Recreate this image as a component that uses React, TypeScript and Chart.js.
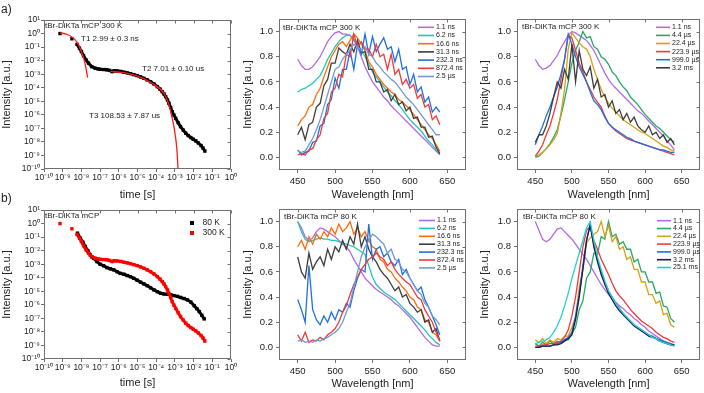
import React, { useEffect, useRef } from "react";
import { Chart, registerables } from "chart.js";
Chart.register(...registerables);

const FONT = '"Liberation Sans", Arial, Helvetica, sans-serif';
const TXT = "#222222";
const FRAME = "#707070";

// ---------- tick values / labels ----------
const logXTicks = [1e-10, 1e-9, 1e-8, 1e-7, 1e-6, 1e-5, 1e-4, 1e-3, 1e-2, 1e-1, 1];
const logXLabels = ["10⁻¹⁰", "10⁻⁹", "10⁻⁸", "10⁻⁷", "10⁻⁶", "10⁻⁵", "10⁻⁴", "10⁻³", "10⁻²", "10⁻¹", "10⁰"];
const logYTicks = [1e-10, 1e-9, 1e-8, 1e-7, 1e-6, 1e-5, 1e-4, 1e-3, 1e-2, 1e-1, 1, 10];
const logYLabels = ["10⁻¹⁰", "10⁻⁹", "10⁻⁸", "10⁻⁷", "10⁻⁶", "10⁻⁵", "10⁻⁴", "10⁻³", "10⁻²", "10⁻¹", "10⁰", "10¹"];
const wlTicks = [450, 500, 550, 600, 650];
const wlTickLabels = ["450", "500", "550", "600", "650"];
const intTicks = [0, 0.2, 0.4, 0.6, 0.8, 1.0];
const intTickLabels = ["0.0", "0.2", "0.4", "0.6", "0.8", "1.0"];

// ---------- decay data (time in s, normalised intensity) ----------
const decayTime300 = [7.2e-10, 3.1e-9, 5.8e-9, 7.9e-9, 1.0e-8, 1.3e-8, 1.8e-8, 2.4e-8, 3.6e-8, 5.5e-8,
  7.9e-8, 1.0e-7, 1.6e-7, 2.3e-7, 3.2e-7, 4.4e-7, 5.6e-7, 8.1e-7, 1.26e-6, 1.9e-6,
  2.8e-6, 4.2e-6, 6.3e-6, 9.5e-6, 1.45e-5, 2.2e-5, 3.3e-5, 5.0e-5, 7.6e-5, 1.15e-4,
  1.6e-4, 2.1e-4, 2.6e-4, 3.2e-4, 4.0e-4, 4.8e-4, 5.9e-4, 7.2e-4, 8.9e-4, 1.1e-3,
  1.5e-3, 2.0e-3, 2.8e-3, 3.8e-3, 5.2e-3, 7.1e-3, 9.5e-3, 1.3e-2, 1.8e-2, 2.5e-2,
  3.2e-2, 4.0e-2];
const decayInt300 = [1.0, 0.41, 0.16, 0.083, 0.047, 0.023, 0.011, 6.5e-3, 3.6e-3, 2.75e-3,
  2.45e-3, 2.3e-3, 2.2e-3, 2.1e-3, 1.9e-3, 1.55e-3, 1.8e-3, 1.75e-3, 1.6e-3, 1.4e-3,
  1.25e-3, 1.1e-3, 9.3e-4, 7.9e-4, 6.3e-4, 5.0e-4, 3.8e-4, 2.8e-4, 1.9e-4, 1.2e-4,
  7.9e-5, 5.1e-5, 3.5e-5, 2.2e-5, 1.26e-5, 7.1e-6, 3.5e-6, 1.7e-6, 9.5e-7, 5.5e-7,
  2.6e-7, 1.35e-7, 7.4e-8, 4.4e-8, 2.9e-8, 2.1e-8, 1.6e-8, 1.2e-8, 8.3e-9, 5.4e-9,
  3.5e-9, 2.1e-9];
const decayTime80 = [6.2e-9, 8.7e-9, 1.2e-8, 1.6e-8, 2.2e-8, 3.0e-8, 3.6e-8, 4.5e-8, 6.8e-8, 1.0e-7,
  1.55e-7, 2.3e-7, 3.5e-7, 5.4e-7, 8.1e-7, 1.2e-6, 1.9e-6, 2.8e-6, 4.2e-6, 6.3e-6,
  9.5e-6, 1.45e-5, 2.2e-5, 3.3e-5, 5.0e-5, 7.6e-5, 1.15e-4, 1.7e-4, 2.6e-4, 4.0e-4,
  6.0e-4, 8.9e-4, 1.35e-3, 2.0e-3, 3.1e-3, 4.7e-3, 7.1e-3, 1.07e-2, 1.5e-2, 2.0e-2,
  2.75e-2, 3.7e-2];
const decayInt80 = [0.195, 0.083, 0.042, 0.02, 0.01, 4.8e-3, 3.5e-3, 2.75e-3, 1.55e-3, 1.0e-3,
  7.6e-4, 5.6e-4, 4.6e-4, 3.8e-4, 2.8e-4, 2.1e-4, 1.8e-4, 1.45e-4, 1.2e-4, 9.1e-5,
  6.6e-5, 4.7e-5, 3.5e-5, 2.6e-5, 1.8e-5, 1.26e-5, 9.3e-6, 7.2e-6, 6.3e-6, 6.0e-6,
  5.5e-6, 4.8e-6, 4.2e-6, 3.5e-6, 2.9e-6, 2.3e-6, 1.6e-6, 8.7e-7, 5.2e-7, 3.2e-7,
  1.7e-7, 9.1e-8];
// fitted components (300 K)
const fitT1Time = [7.2e-10, 1.66e-9, 3.8e-9, 7.1e-9, 1.07e-8, 1.48e-8, 1.82e-8, 2.14e-8];
const fitT1Int = [1.12, 0.89, 0.46, 0.145, 0.035, 8.5e-3, 2.1e-3, 5.6e-4];
const fitT2Time = [3.5e-7, 1.9e-6, 9.5e-6, 5.0e-5, 1.7e-4, 2.6e-4];
const fitT2Int = [1.6e-3, 1.3e-3, 7.4e-4, 2.5e-4, 7.9e-5, 4.0e-5];
const fitT3Time = [7.6e-5, 2.6e-4, 4.8e-4, 7.2e-4, 9.8e-4, 1.26e-3, 1.48e-3];
const fitT3Int = [1.6e-4, 3.9e-5, 5.4e-6, 5.5e-7, 5.8e-8, 3.4e-9, 1.0e-10];

// ---------- spectra (wavelength in nm) ----------
const wavelengths = [450, 455, 460, 465, 470, 475, 480, 485, 490, 495, 500, 505, 510, 515, 520, 525, 530, 535, 540, 545,
  550, 555, 560, 565, 570, 575, 580, 585, 590, 595, 600, 605, 610, 615, 620, 625, 630, 635, 640];

// 300 K, early delays
const s300_1_1ns = [0.78, 0.73, 0.70, 0.70, 0.72, 0.76, 0.80, 0.86, 0.92, 0.96, 0.99, 1.00, 0.98, 0.98, 0.97, 0.93, 0.88, 0.80, 0.72, 0.66,
  0.60, 0.56, 0.52, 0.48, 0.45, 0.41, 0.38, 0.35, 0.32, 0.29, 0.26, 0.23, 0.20, 0.17, 0.14, 0.11, 0.08, 0.05, 0.02];
const s300_6_2ns = [0.52, 0.54, 0.55, 0.57, 0.59, 0.62, 0.65, 0.71, 0.78, 0.83, 0.88, 0.92, 0.95, 0.97, 0.97, 0.94, 0.90, 0.85, 0.80, 0.74,
  0.68, 0.64, 0.60, 0.56, 0.52, 0.49, 0.45, 0.42, 0.38, 0.34, 0.30, 0.27, 0.24, 0.21, 0.17, 0.13, 0.10, 0.06, 0.03];
const s300_16_6ns = [0.25, 0.30, 0.33, 0.40, 0.42, 0.50, 0.55, 0.64, 0.72, 0.80, 0.85, 0.90, 0.92, 0.88, 0.93, 0.98, 0.95, 0.90, 0.85, 0.76,
  0.72, 0.66, 0.62, 0.58, 0.55, 0.52, 0.50, 0.46, 0.44, 0.41, 0.38, 0.34, 0.30, 0.26, 0.22, 0.18, 0.15, 0.10, 0.05];
const s300_31_3ns = [0.18, 0.24, 0.14, 0.26, 0.28, 0.40, 0.43, 0.57, 0.62, 0.75, 0.75, 0.87, 0.84, 0.82, 0.90, 0.84, 0.93, 0.83, 0.84, 0.70,
  0.70, 0.60, 0.60, 0.52, 0.54, 0.45, 0.50, 0.42, 0.44, 0.37, 0.40, 0.31, 0.32, 0.24, 0.24, 0.16, 0.17, 0.08, 0.03];
const s300_232_3ns = [0.06, 0.02, 0.04, 0.05, 0.12, 0.13, 0.25, 0.27, 0.42, 0.46, 0.63, 0.55, 0.70, 0.70, 0.85, 0.70, 0.90, 0.82, 0.98, 0.82,
  0.96, 0.84, 0.90, 0.95, 0.86, 0.88, 0.76, 0.86, 0.70, 0.72, 0.58, 0.66, 0.52, 0.56, 0.44, 0.48, 0.36, 0.40, 0.36];
const s300_872_4ns = [0.02, 0.03, 0.02, 0.06, 0.07, 0.14, 0.18, 0.31, 0.35, 0.52, 0.55, 0.66, 0.64, 0.82, 0.80, 0.98, 0.88, 0.92, 0.86, 0.86,
  0.80, 0.90, 0.80, 0.82, 0.70, 0.82, 0.66, 0.70, 0.58, 0.62, 0.55, 0.58, 0.47, 0.50, 0.40, 0.42, 0.30, 0.33, 0.26];
const s300_2_5us = [0.05, 0.04, 0.05, 0.10, 0.15, 0.22, 0.30, 0.40, 0.50, 0.60, 0.70, 0.72, 0.78, 0.82, 0.85, 0.90, 0.88, 0.85, 0.88, 0.82,
  0.80, 0.75, 0.72, 0.68, 0.65, 0.62, 0.60, 0.56, 0.52, 0.48, 0.45, 0.42, 0.38, 0.34, 0.30, 0.26, 0.22, 0.18, 0.18];

// 300 K, late delays
const s300b_1_1ns = [0.78, 0.73, 0.70, 0.71, 0.73, 0.77, 0.81, 0.87, 0.92, 0.97, 1.00, 0.99, 0.97, 0.95, 0.93, 0.89, 0.85, 0.79, 0.73, 0.67,
  0.62, 0.58, 0.55, 0.52, 0.49, 0.46, 0.43, 0.40, 0.37, 0.35, 0.32, 0.29, 0.26, 0.23, 0.20, 0.17, 0.13, 0.10, 0.06];
const s300b_4_4us = [0.00, 0.01, 0.04, 0.07, 0.11, 0.16, 0.22, 0.33, 0.46, 0.60, 0.75, 0.85, 0.92, 1.00, 0.95, 0.96, 0.88, 0.86, 0.80, 0.78,
  0.74, 0.68, 0.65, 0.60, 0.56, 0.53, 0.48, 0.45, 0.42, 0.38, 0.34, 0.31, 0.28, 0.25, 0.23, 0.20, 0.17, 0.14, 0.12];
const s300b_22_4us = [0.01, 0.02, 0.04, 0.07, 0.10, 0.14, 0.19, 0.35, 0.54, 0.86, 0.99, 0.95, 0.91, 0.88, 0.86, 0.80, 0.70, 0.62, 0.54, 0.48,
  0.43, 0.39, 0.36, 0.33, 0.30, 0.28, 0.26, 0.24, 0.22, 0.20, 0.19, 0.17, 0.15, 0.13, 0.11, 0.09, 0.08, 0.06, 0.05];
const s300b_223_9us = [0.01, 0.05, 0.10, 0.18, 0.25, 0.35, 0.46, 0.62, 0.78, 0.97, 0.95, 0.85, 0.75, 0.68, 0.60, 0.54, 0.48, 0.44, 0.40, 0.33,
  0.27, 0.24, 0.21, 0.19, 0.17, 0.15, 0.14, 0.13, 0.12, 0.11, 0.10, 0.09, 0.08, 0.07, 0.06, 0.05, 0.04, 0.03, 0.02];
const s300b_999_0us = [0.10, 0.18, 0.25, 0.33, 0.40, 0.48, 0.56, 0.66, 0.78, 0.98, 0.90, 0.80, 0.72, 0.66, 0.60, 0.52, 0.45, 0.42, 0.38, 0.32,
  0.27, 0.24, 0.22, 0.20, 0.18, 0.16, 0.15, 0.13, 0.12, 0.11, 0.10, 0.09, 0.08, 0.07, 0.06, 0.06, 0.05, 0.04, 0.04];
const s300b_3_2ms = [0.12, 0.18, 0.18, 0.25, 0.35, 0.48, 0.60, 0.55, 0.70, 0.62, 0.90, 0.60, 0.85, 0.70, 0.65, 0.72, 0.55, 0.62, 0.48, 0.50,
  0.40, 0.45, 0.35, 0.38, 0.30, 0.35, 0.28, 0.32, 0.25, 0.22, 0.20, 0.25, 0.18, 0.20, 0.15, 0.18, 0.12, 0.15, 0.10];

// 80 K, early delays
const s80_1_1ns = [1.00, 0.95, 0.88, 0.85, 0.87, 0.92, 0.95, 0.94, 0.92, 0.90, 0.88, 0.85, 0.82, 0.80, 0.76, 0.70, 0.65, 0.60, 0.55, 0.52,
  0.49, 0.46, 0.44, 0.42, 0.40, 0.38, 0.35, 0.33, 0.30, 0.27, 0.24, 0.20, 0.16, 0.12, 0.08, 0.05, 0.02, 0.01, 0.01];
const s80_6_2ns = [1.00, 0.92, 0.86, 0.84, 0.85, 0.86, 0.87, 0.86, 0.86, 0.85, 0.85, 0.84, 0.83, 0.82, 0.81, 0.80, 0.78, 0.76, 0.74, 0.65,
  0.56, 0.50, 0.47, 0.44, 0.42, 0.40, 0.38, 0.35, 0.32, 0.29, 0.26, 0.23, 0.20, 0.17, 0.14, 0.10, 0.07, 0.04, 0.02];
const s80_16_6ns = [0.80, 0.85, 0.78, 0.88, 0.82, 0.90, 0.86, 0.92, 0.88, 0.95, 0.90, 0.98, 0.92, 0.95, 1.00, 0.90, 0.95, 0.88, 0.92, 0.85,
  0.80, 0.78, 0.70, 0.68, 0.62, 0.60, 0.55, 0.52, 0.48, 0.45, 0.40, 0.38, 0.32, 0.30, 0.22, 0.20, 0.12, 0.10, 0.05];
const s80_31_3ns = [0.72, 0.60, 0.55, 0.75, 0.62, 0.68, 0.72, 0.65, 0.78, 0.70, 0.80, 0.76, 0.85, 0.78, 0.88, 0.82, 0.98, 0.80, 0.88, 0.78,
  0.72, 0.68, 0.62, 0.58, 0.55, 0.50, 0.45, 0.48, 0.40, 0.42, 0.35, 0.32, 0.28, 0.30, 0.20, 0.22, 0.12, 0.15, 0.05];
const s80_232_3ns = [0.38, 0.30, 0.20, 0.65, 0.30, 0.22, 0.18, 0.25, 0.20, 0.28, 0.22, 0.30, 0.28, 0.35, 0.32, 0.45, 0.55, 0.62, 0.60, 0.98,
  0.70, 0.78, 0.80, 0.72, 0.75, 0.68, 0.65, 0.70, 0.58, 0.62, 0.55, 0.50, 0.45, 0.48, 0.38, 0.32, 0.25, 0.18, 0.10];
const s80_872_4ns = [0.10, 0.05, 0.12, 0.04, 0.06, 0.05, 0.08, 0.06, 0.10, 0.12, 0.15, 0.20, 0.28, 0.33, 0.42, 0.50, 0.56, 0.62, 0.66, 0.70,
  0.72, 0.75, 0.72, 0.70, 0.65, 0.68, 0.62, 0.58, 0.55, 0.52, 0.50, 0.45, 0.40, 0.38, 0.30, 0.25, 0.20, 0.12, 0.05];
const s80_2_5us = [0.05, 0.06, 0.04, 0.05, 0.04, 0.06, 0.05, 0.07, 0.08, 0.10, 0.12, 0.15, 0.20, 0.28, 0.35, 0.48, 0.60, 0.72, 0.80, 0.85,
  0.90, 0.88, 0.85, 0.82, 0.75, 0.78, 0.70, 0.68, 0.62, 0.60, 0.55, 0.50, 0.45, 0.42, 0.35, 0.32, 0.25, 0.22, 0.18];

// 80 K, late delays
const s80b_1_1ns = [1.00, 0.93, 0.86, 0.84, 0.86, 0.90, 0.94, 0.95, 0.92, 0.89, 0.86, 0.82, 0.78, 0.74, 0.70, 0.65, 0.60, 0.55, 0.50, 0.46,
  0.42, 0.39, 0.36, 0.33, 0.31, 0.28, 0.26, 0.23, 0.21, 0.18, 0.16, 0.13, 0.11, 0.09, 0.07, 0.05, 0.03, 0.02, 0.01];
const s80b_4_4us = [0.03, 0.01, 0.04, 0.02, 0.05, 0.03, 0.05, 0.04, 0.06, 0.06, 0.11, 0.16, 0.30, 0.37, 0.55, 0.60, 0.75, 0.74, 0.88, 0.86,
  1.00, 0.88, 0.90, 0.82, 0.84, 0.78, 0.78, 0.68, 0.70, 0.60, 0.60, 0.52, 0.52, 0.43, 0.44, 0.33, 0.32, 0.23, 0.20];
const s80b_22_4us = [0.06, 0.04, 0.07, 0.03, 0.06, 0.04, 0.07, 0.06, 0.09, 0.09, 0.16, 0.24, 0.48, 0.62, 0.83, 0.87, 0.90, 0.92, 1.00, 0.88,
  0.97, 0.84, 0.88, 0.78, 0.80, 0.70, 0.72, 0.62, 0.62, 0.52, 0.52, 0.42, 0.42, 0.35, 0.37, 0.26, 0.27, 0.18, 0.16];
const s80b_223_9us = [0.01, 0.01, 0.02, 0.02, 0.03, 0.03, 0.04, 0.05, 0.08, 0.14, 0.25, 0.40, 0.60, 0.80, 0.93, 0.96, 0.85, 0.78, 0.70, 0.64,
  0.58, 0.51, 0.45, 0.41, 0.38, 0.34, 0.30, 0.27, 0.24, 0.21, 0.19, 0.17, 0.15, 0.12, 0.10, 0.08, 0.07, 0.05, 0.04];
const s80b_999_0us = [0.00, 0.00, 0.01, 0.01, 0.01, 0.02, 0.03, 0.04, 0.06, 0.08, 0.12, 0.25, 0.42, 0.65, 0.85, 0.98, 0.82, 0.70, 0.60, 0.52,
  0.45, 0.40, 0.35, 0.31, 0.27, 0.24, 0.21, 0.18, 0.16, 0.14, 0.12, 0.10, 0.09, 0.07, 0.06, 0.05, 0.04, 0.03, 0.02];
const s80b_3_2ms = [0.00, 0.00, 0.01, 0.01, 0.01, 0.02, 0.02, 0.03, 0.05, 0.07, 0.10, 0.22, 0.40, 0.62, 0.85, 0.97, 0.80, 0.68, 0.58, 0.50,
  0.43, 0.38, 0.33, 0.29, 0.26, 0.23, 0.20, 0.17, 0.15, 0.13, 0.11, 0.09, 0.08, 0.07, 0.05, 0.04, 0.03, 0.02, 0.02];
const s80b_25_1ms = [0.03, 0.04, 0.05, 0.06, 0.08, 0.12, 0.17, 0.24, 0.33, 0.43, 0.55, 0.65, 0.75, 0.85, 0.95, 1.00, 0.85, 0.72, 0.62, 0.53,
  0.45, 0.40, 0.35, 0.31, 0.27, 0.24, 0.21, 0.18, 0.16, 0.14, 0.12, 0.10, 0.08, 0.07, 0.05, 0.04, 0.03, 0.02, 0.01];

// ---------- helpers ----------
const pickLog = (vals: number[], labels: string[]) => (v: any) => {
  const i = vals.findIndex((t) => Math.abs(Math.log10(t) - Math.log10(Number(v))) < 1e-6);
  return i >= 0 ? labels[i] : "";
};
const pickLin = (vals: number[], labels: string[]) => (v: any) => {
  const i = vals.findIndex((t) => Math.abs(t - Number(v)) < 1e-9);
  return i >= 0 ? labels[i] : "";
};
const pts = (xs: number[], ys: number[]) => xs.map((x, i) => ({ x, y: ys[i] }));

const gridOpts = { display: true, drawOnChartArea: false, drawTicks: true, tickLength: 3, color: FRAME, lineWidth: 1 };

const framePlugin = {
  id: "frame",
  afterDatasetsDraw(chart: any) {
    const { ctx, chartArea: a, scales } = chart;
    const l = Math.round(a.left) + 0.5, r = Math.round(a.right) - 0.5;
    const t = Math.round(a.top) + 0.5, b = Math.round(a.bottom) - 0.5;
    ctx.save();
    ctx.strokeStyle = FRAME;
    ctx.lineWidth = 1;
    ctx.strokeRect(l, t, r - l, b - t);
    ctx.beginPath();
    scales.x.ticks.forEach((tk: any) => {
      const px = Math.round(scales.x.getPixelForValue(tk.value)) + 0.5;
      ctx.moveTo(px, t);
      ctx.lineTo(px, t + 3);
    });
    scales.y.ticks.forEach((tk: any) => {
      const py = Math.round(scales.y.getPixelForValue(tk.value)) + 0.5;
      ctx.moveTo(r, py);
      ctx.lineTo(r - 3, py);
    });
    ctx.stroke();
    ctx.restore();
  },
};

type Note = { text: string; dx: number; dy: number; size: number };
type LegendSpec = { kind: "line" | "rect"; dx: number; dy: number; step: number; sample: number; textDx: number; size: number };

function notesPlugin(notes: Note[], legend?: LegendSpec) {
  return {
    id: "notes",
    afterDraw(chart: any) {
      const { ctx, chartArea: a } = chart;
      ctx.save();
      ctx.textAlign = "left";
      ctx.textBaseline = "middle";
      notes.forEach((n) => {
        ctx.font = `${n.size}px ${FONT}`;
        ctx.fillStyle = TXT;
        ctx.fillText(n.text, a.left + n.dx, a.top + n.dy);
      });
      if (legend) {
        chart.data.datasets
          .filter((d: any) => d.label && !d.noLegend)
          .forEach((d: any, i: number) => {
            const x = a.left + legend.dx;
            const y = a.top + legend.dy + i * legend.step;
            if (legend.kind === "rect") {
              ctx.fillStyle = d.backgroundColor;
              ctx.fillRect(Math.round(x - 2), Math.round(y - 2), 4, 4);
            } else {
              ctx.strokeStyle = d.borderColor;
              ctx.lineWidth = 1.6;
              ctx.beginPath();
              ctx.moveTo(x, y);
              ctx.lineTo(x + legend.sample, y);
              ctx.stroke();
            }
            ctx.font = `${legend.size}px ${FONT}`;
            ctx.fillStyle = TXT;
            ctx.fillText(d.label, x + legend.textDx, y);
          });
      }
      ctx.restore();
    },
  };
}

const gapSeg = (color: string) => ({
  borderColor: (c: any) => (Math.hypot(c.p1.x - c.p0.x, c.p1.y - c.p0.y) > 7 ? "rgba(0,0,0,0)" : color),
});

function decaySet(label: string, xs: number[], ys: number[], color: string, noLegend: boolean, order: number) {
  return {
    label, noLegend, order,
    data: pts(xs, ys),
    borderColor: color, backgroundColor: color,
    pointStyle: "rect", pointRadius: 2.4, pointBorderWidth: 0,
    borderWidth: 3, showLine: true, segment: gapSeg(color),
  };
}
function fitSet(xs: number[], ys: number[], order: number) {
  return {
    label: "", noLegend: true, order,
    data: pts(xs, ys),
    borderColor: "#ff1a1a", backgroundColor: "#ff1a1a",
    pointRadius: 0, borderWidth: 1.3, cubicInterpolationMode: "monotone",
  };
}

type Box = { x: number; y: number; w: number; h: number };
type Layout = { padTop: number; padRight: number; yWidth: number; xHeight: number; xTitlePad: number; yTitlePad: number };

function baseOptions(L: Layout) {
  return {
    responsive: false,
    animation: false,
    devicePixelRatio: 1,
    events: [],
    layout: { padding: { top: L.padTop, right: L.padRight, left: 0, bottom: 0 } },
    plugins: { legend: { display: false }, tooltip: { enabled: false } },
  };
}

function decayConfig(L: Layout, datasets: any[], notes: Note[], legend?: LegendSpec) {
  return {
    type: "line",
    data: { datasets },
    options: {
      ...baseOptions(L),
      scales: {
        x: {
          type: "logarithmic", min: 1e-10, max: 1,
          afterBuildTicks: (s: any) => { s.ticks = logXTicks.map((v) => ({ value: v })); },
          afterFit: (s: any) => { s.height = L.xHeight; },
          ticks: { autoSkip: false, maxRotation: 0, minRotation: 0, padding: 1, color: TXT, font: { family: FONT, size: 8.5 }, callback: pickLog(logXTicks, logXLabels) },
          grid: gridOpts, border: { display: false },
          title: { display: true, text: "time [s]", color: TXT, font: { family: FONT, size: 11 }, padding: { top: 0, bottom: L.xTitlePad } },
        },
        y: {
          type: "logarithmic", min: 1e-10, max: 10,
          afterBuildTicks: (s: any) => { s.ticks = logYTicks.map((v) => ({ value: v })); },
          afterFit: (s: any) => { s.width = L.yWidth; },
          ticks: { autoSkip: false, padding: 1, color: TXT, font: { family: FONT, size: 8.5 }, callback: pickLog(logYTicks, logYLabels) },
          grid: gridOpts, border: { display: false },
          title: { display: true, text: "Intensity [a.u.]", color: TXT, font: { family: FONT, size: 11 }, padding: { top: L.yTitlePad, bottom: 0 } },
        },
      },
    },
    plugins: [framePlugin, notesPlugin(notes, legend)],
  };
}

type Series = { label: string; values: number[]; color: string };

function spectrumConfig(L: Layout, series: Series[], notes: Note[], legend: LegendSpec) {
  const datasets = series.map((s, i) => ({
    label: s.label,
    data: pts(wavelengths, s.values),
    borderColor: s.color, backgroundColor: s.color,
    borderWidth: 1.3, pointRadius: 0, tension: 0,
    order: series.length - i,
  }));
  return {
    type: "line",
    data: { datasets },
    options: {
      ...baseOptions(L),
      scales: {
        x: {
          type: "linear", min: 425, max: 675,
          afterBuildTicks: (s: any) => { s.ticks = wlTicks.map((v) => ({ value: v })); },
          afterFit: (s: any) => { s.height = L.xHeight; },
          ticks: { autoSkip: false, maxRotation: 0, padding: 3, color: TXT, font: { family: FONT, size: 9.5 }, callback: pickLin(wlTicks, wlTickLabels) },
          grid: gridOpts, border: { display: false },
          title: { display: true, text: "Wavelength [nm]", color: TXT, font: { family: FONT, size: 11 }, padding: { top: 0, bottom: L.xTitlePad } },
        },
        y: {
          type: "linear", min: -0.1, max: 1.1,
          afterBuildTicks: (s: any) => { s.ticks = intTicks.map((v) => ({ value: v })); },
          afterFit: (s: any) => { s.width = L.yWidth; },
          ticks: { autoSkip: false, padding: 3, color: TXT, font: { family: FONT, size: 9.5 }, callback: pickLin(intTicks, intTickLabels) },
          grid: gridOpts, border: { display: false },
          title: { display: true, text: "Intensity [a.u.]", color: TXT, font: { family: FONT, size: 11 }, padding: { top: L.yTitlePad, bottom: 0 } },
        },
      },
    },
    plugins: [framePlugin, notesPlugin(notes, legend)],
  };
}

// ---------- colours ----------
const C_PURPLE = "#b36ae2";
const C_TEAL = "#1fc6b6";
const C_ORANGE = "#ff6a0a";
const C_DGRAY = "#3d3d3d";
const C_BLUE = "#1f6fe0";
const C_RED = "#f03a3a";
const C_LBLUE = "#6f9ad6";
const C_GREEN = "#27a865";
const C_GOLD = "#d4a017";
const C_NAVY = "#1c1c48";
const C_CYAN = "#22d2d2";

// ---------- panel definitions ----------
function Panel({ box, build }: { box: Box; build: () => any }) {
  const ref = useRef<HTMLCanvasElement | null>(null);
  useEffect(() => {
    if (!ref.current) return;
    const chart = new Chart(ref.current, build());
    return () => chart.destroy();
  }, []);
  return (
    <canvas
      ref={ref}
      width={box.w}
      height={box.h}
      style={{ position: "absolute", left: box.x, top: box.y, width: box.w, height: box.h }}
    />
  );
}

const buildA1 = () =>
  decayConfig(
    { padTop: 20, padRight: 9, yWidth: 44, xHeight: 35, xTitlePad: 2.4, yTitlePad: 0 },
    [
      decaySet("300 K", decayTime300, decayInt300, "#000000", true, 5),
      fitSet(fitT1Time, fitT1Int, 1),
      fitSet(fitT2Time, fitT2Int, 2),
      fitSet(fitT3Time, fitT3Int, 3),
    ],
    [
      { text: "tBr-DiKTa mCP 300 K", dx: 1, dy: 6, size: 8 },
      { text: "T1 2.99 ± 0.3 ns", dx: 37, dy: 18.5, size: 8 },
      { text: "T2 7.01 ± 0.10 us", dx: 98, dy: 49, size: 8 },
      { text: "T3 108.53 ± 7.87 us", dx: 45, dy: 96, size: 8 },
    ]
  );

const buildB1 = () =>
  decayConfig(
    { padTop: 20, padRight: 9, yWidth: 44, xHeight: 34, xTitlePad: 3.4, yTitlePad: 0 },
    [
      decaySet("80 K", decayTime80, decayInt80, "#000000", false, 2),
      decaySet("300 K", decayTime300, decayInt300, "#ff0000", false, 1),
    ],
    [{ text: "tBr-DiKTa mCP", dx: 1, dy: 6, size: 8 }],
    { kind: "rect", dx: 147.5, dy: 13, step: 10, sample: 0, textDx: 11, size: 8.5 }
  );

const buildA2 = () =>
  spectrumConfig(
    { padTop: 19, padRight: 10, yWidth: 39, xHeight: 34, xTitlePad: 2.7, yTitlePad: 1.7 },
    [
      { label: "1.1 ns", values: s300_1_1ns, color: C_PURPLE },
      { label: "6.2 ns", values: s300_6_2ns, color: C_TEAL },
      { label: "16.6 ns", values: s300_16_6ns, color: C_ORANGE },
      { label: "31.3 ns", values: s300_31_3ns, color: C_DGRAY },
      { label: "232.3 ns", values: s300_232_3ns, color: C_BLUE },
      { label: "872.4 ns", values: s300_872_4ns, color: C_RED },
      { label: "2.5 µs", values: s300_2_5us, color: C_LBLUE },
    ],
    [{ text: "tBr-DiKTa mCP 300 K", dx: 4, dy: 8.3, size: 8 }],
    { kind: "line", dx: 139, dy: 8.3, step: 8.2, sample: 16, textDx: 18, size: 7 }
  );

const buildA3 = () =>
  spectrumConfig(
    { padTop: 19, padRight: 4, yWidth: 39, xHeight: 34, xTitlePad: 2.7, yTitlePad: 0.4 },
    [
      { label: "1.1 ns", values: s300b_1_1ns, color: C_PURPLE },
      { label: "4.4 µs", values: s300b_4_4us, color: C_GREEN },
      { label: "22.4 µs", values: s300b_22_4us, color: C_GOLD },
      { label: "223.9 µs", values: s300b_223_9us, color: C_RED },
      { label: "999.0 µs", values: s300b_999_0us, color: C_BLUE },
      { label: "3.2 ms", values: s300b_3_2ms, color: C_DGRAY },
    ],
    [{ text: "tBr-DiKTa mCP 300 K", dx: 5, dy: 7.5, size: 8 }],
    { kind: "line", dx: 139, dy: 8.3, step: 8.1, sample: 14, textDx: 16, size: 7 }
  );

const buildB2 = () =>
  spectrumConfig(
    { padTop: 19, padRight: 10, yWidth: 39, xHeight: 33, xTitlePad: 2.4, yTitlePad: 1.7 },
    [
      { label: "1.1 ns", values: s80_1_1ns, color: C_PURPLE },
      { label: "6.2 ns", values: s80_6_2ns, color: C_TEAL },
      { label: "16.6 ns", values: s80_16_6ns, color: C_ORANGE },
      { label: "31.3 ns", values: s80_31_3ns, color: C_DGRAY },
      { label: "232.3 ns", values: s80_232_3ns, color: C_BLUE },
      { label: "872.4 ns", values: s80_872_4ns, color: C_RED },
      { label: "2.5 µs", values: s80_2_5us, color: C_LBLUE },
    ],
    [{ text: "tBr-DiKTa mCP 80 K", dx: 5, dy: 7.3, size: 8 }],
    { kind: "line", dx: 140, dy: 11.5, step: 7.9, sample: 16, textDx: 18, size: 7 }
  );

const buildB3 = () =>
  spectrumConfig(
    { padTop: 19, padRight: 4, yWidth: 39, xHeight: 33, xTitlePad: 2.4, yTitlePad: 0.4 },
    [
      { label: "1.1 ns", values: s80b_1_1ns, color: C_PURPLE },
      { label: "4.4 µs", values: s80b_4_4us, color: C_GREEN },
      { label: "22.4 µs", values: s80b_22_4us, color: C_GOLD },
      { label: "223.9 µs", values: s80b_223_9us, color: C_RED },
      { label: "999.0 µs", values: s80b_999_0us, color: C_BLUE },
      { label: "3.2 ms", values: s80b_3_2ms, color: C_NAVY },
      { label: "25.1 ms", values: s80b_25_1ms, color: C_CYAN },
    ],
    [{ text: "tBr-DiKTa mCP 80 K", dx: 6, dy: 7.3, size: 8 }],
    { kind: "line", dx: 140, dy: 11.7, step: 7.8, sample: 14, textDx: 16, size: 7 }
  );

export default function App() {
  const labelStyle: React.CSSProperties = {
    position: "absolute", left: 1, fontSize: 12, lineHeight: "14px", color: TXT, fontFamily: FONT,
  };
  return (
    <div style={{ position: "absolute", left: 0, top: 0, width: 704, height: 393, background: "#ffffff", overflow: "hidden" }}>
      <Panel box={{ x: 0, y: 0, w: 240, h: 204 }} build={buildA1} />
      <Panel box={{ x: 240, y: 0, w: 236, h: 204 }} build={buildA2} />
      <Panel box={{ x: 478, y: 0, w: 226, h: 204 }} build={buildA3} />
      <Panel box={{ x: 0, y: 190, w: 240, h: 203 }} build={buildB1} />
      <Panel box={{ x: 240, y: 190, w: 236, h: 203 }} build={buildB2} />
      <Panel box={{ x: 478, y: 190, w: 226, h: 203 }} build={buildB3} />
      <div style={{ ...labelStyle, top: 2 }}>a)</div>
      <div style={{ ...labelStyle, top: 191 }}>b)</div>
    </div>
  );
}
